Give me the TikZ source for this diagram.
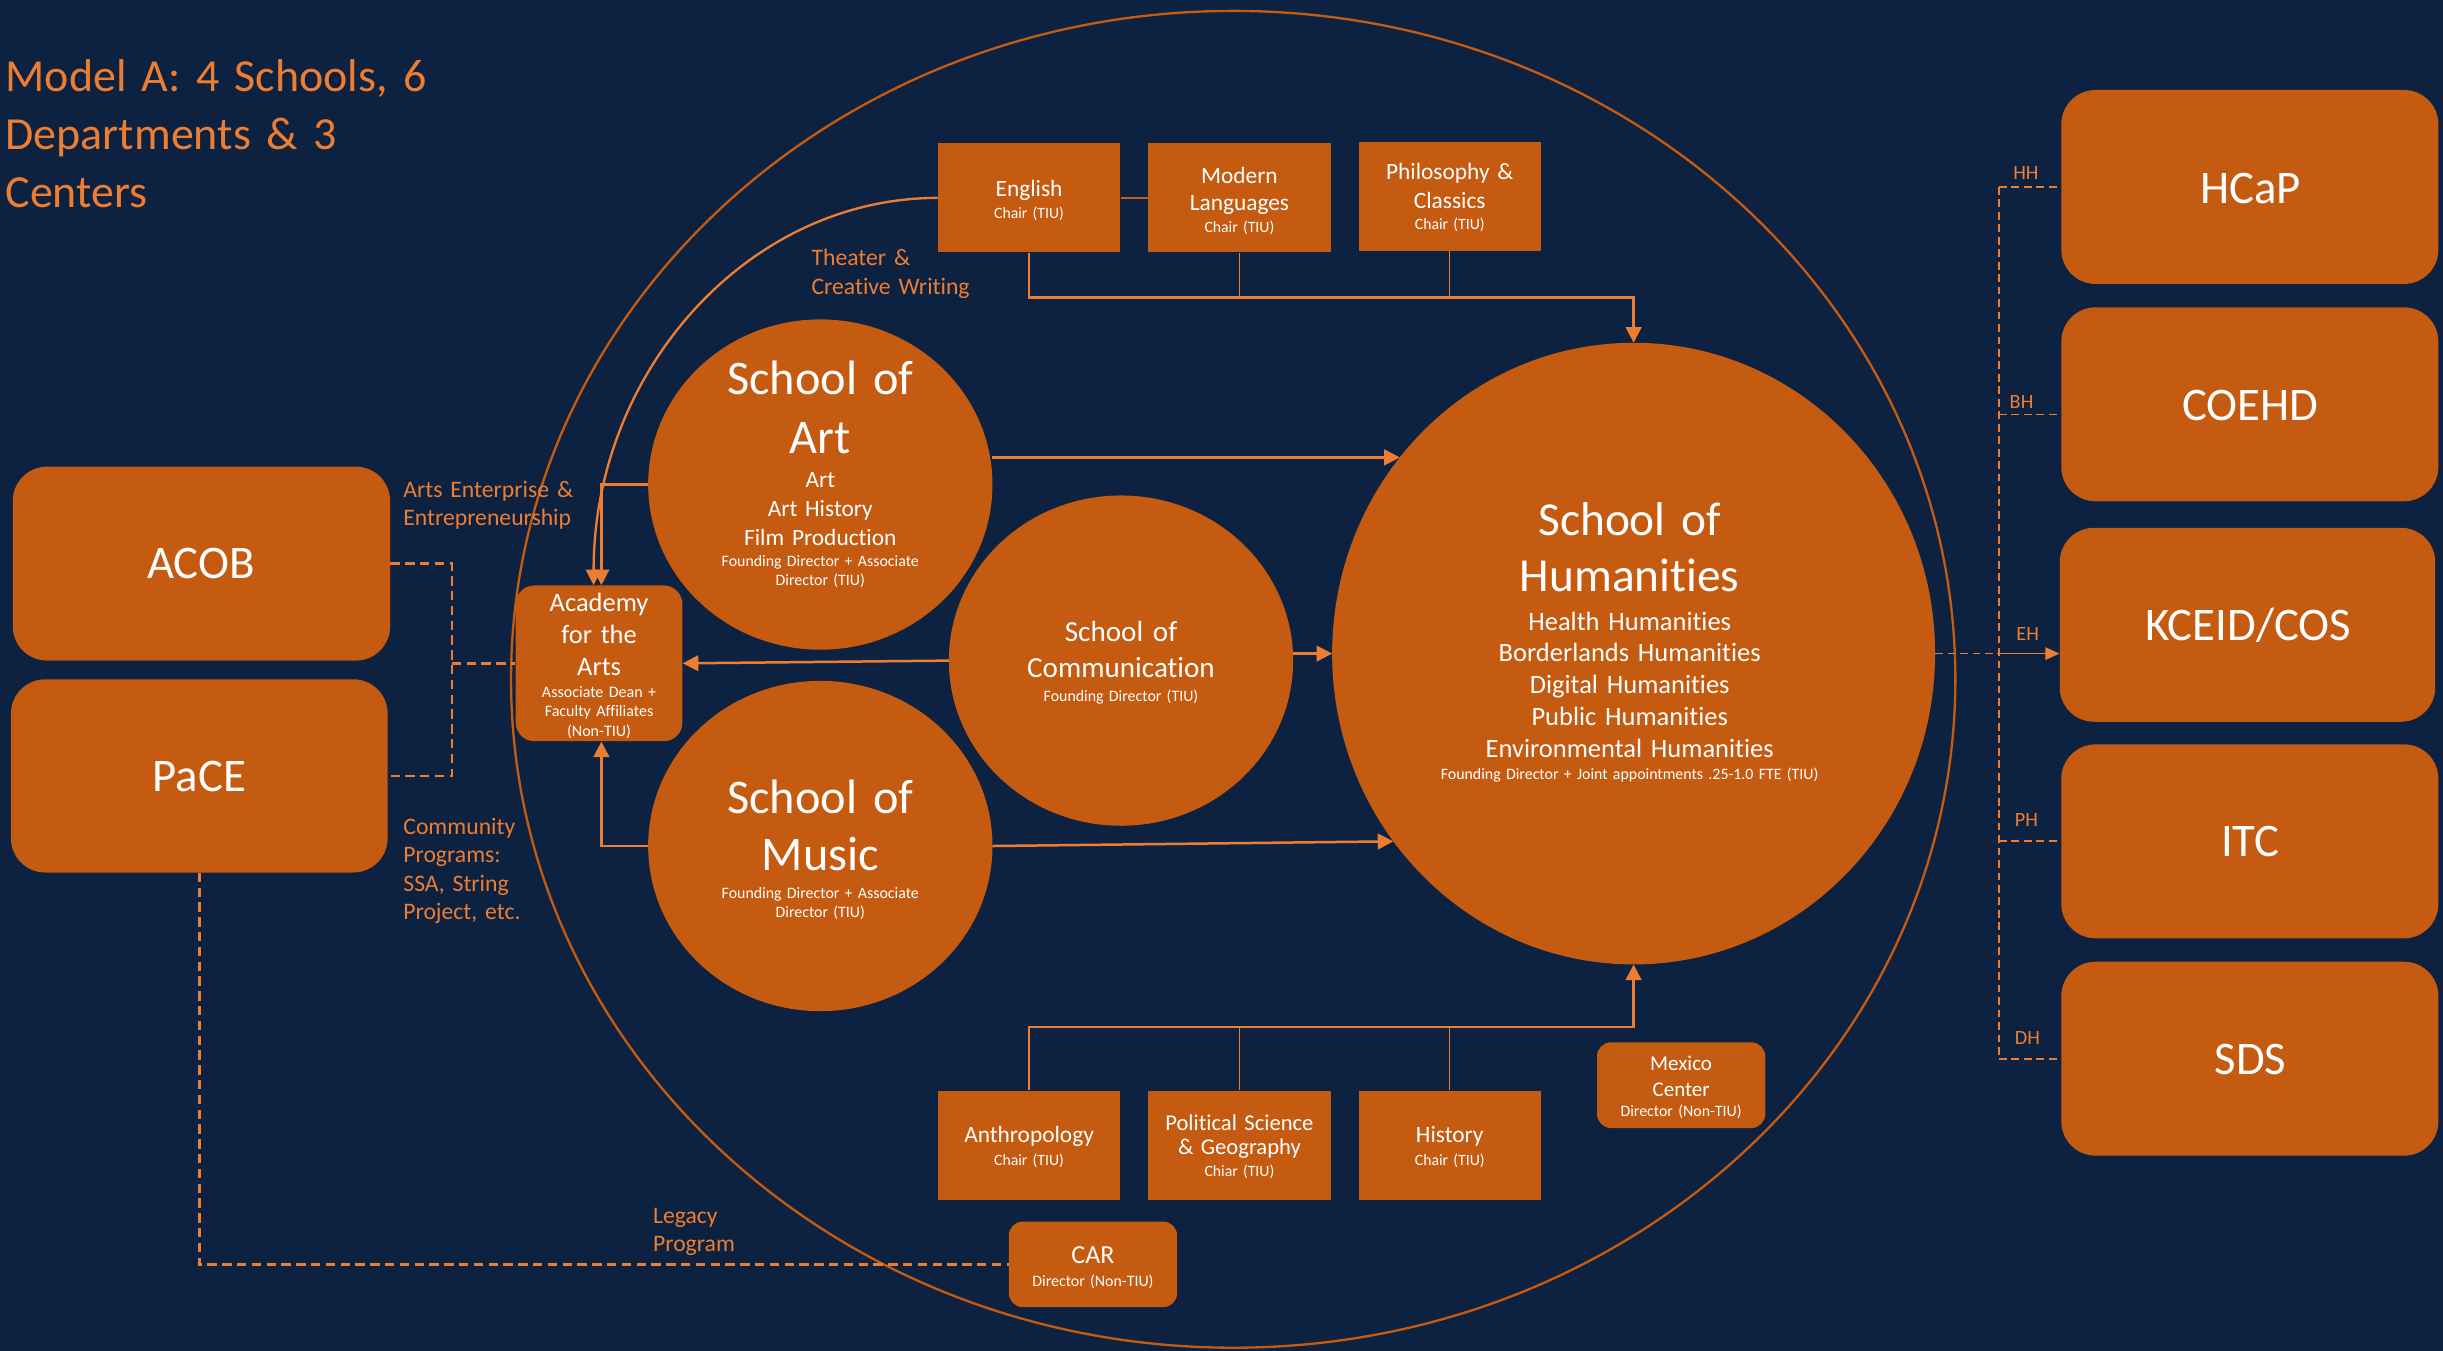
\documentclass[tikz,border=0pt]{standalone}
\usepackage{fontspec}
\setmainfont{Carlito}[Ligatures=NoCommon]
\usetikzlibrary{shapes.geometric,arrows.meta,calc}
\definecolor{bgc}{RGB}{13,34,64}
\definecolor{fillc}{RGB}{197,90,17}
\definecolor{linec}{RGB}{237,125,49}
\newcommand{\fs}[2]{\fontsize{#1}{#2}\selectfont}
\tikzset{
  school/.style={ellipse, fill=fillc, inner sep=0pt, outer sep=0pt},
  deptbox/.style={rectangle, fill=fillc, inner sep=0pt, minimum width=117pt, minimum height=70pt},
  unitbox/.style={rectangle, rounded corners=22pt, fill=fillc, inner sep=0pt, minimum width=242pt, minimum height=124.5pt},
  ctrbox/.style={rectangle, rounded corners=9pt, fill=fillc, inner sep=0pt, minimum width=108pt, minimum height=55pt},
  wtxt/.style={text=white, inner sep=0pt, anchor=base, align=center, text width=260pt},
  otxt/.style={text=linec, inner sep=0pt, anchor=base west, align=left, text width=220pt},
  conn/.style={draw=linec, line width=1.6pt},
  thinconn/.style={draw=linec, line width=0.9pt},
  arr/.style={conn, -{Triangle[length=10pt,width=10pt]}},
  rarr/.style={draw=linec, line width=1.1pt, -{Triangle[length=9pt,width=8pt]}},
  dsh/.style={draw=linec, line width=1.6pt, dash pattern=on 6pt off 3.5pt},
  rdsh/.style={draw=linec, line width=1.1pt, dash pattern=on 5pt off 3pt},
}
\begin{document}
\begin{tikzpicture}[x=1pt,y=-1pt]
\fill[bgc] (0,0) rectangle (1568,867);
\useasboundingbox (0,0) rectangle (1568,867);

% title
\node[otxt, font=\fs{29.5}{37}, text width=400pt] (title) at (3.4,59) {Model A: 4 Schools, 6\\Departments \& 3\\Centers};

% outer ellipse
\node[ellipse, draw=fillc, line width=1.5pt, minimum width=927pt, minimum height=858pt, inner sep=0pt] (outer) at (791.5,436) {};

% schools
\node[school, minimum width=221pt, minimum height=212pt] (art) at (526.5,311) {};
\node[school, minimum width=221pt, minimum height=212pt] (comm) at (719.5,424) {};
\node[school, minimum width=221pt, minimum height=212pt] (music) at (526.5,543) {};
\node[school, minimum width=387pt, minimum height=399pt] (hum) at (1048.5,419.5) {};

\node[wtxt, font=\fs{31}{37.5}] (artA) at (526.5,253.5) {School of\\Art};
\node[wtxt, font=\fs{15}{18.5}] (artB) at (526.5,313) {Art\\Art History\\Film Production};
\node[wtxt, font=\fs{10.2}{12.3}] (artC) at (526.5,363.7) {Founding Director + Associate\\Director (TIU)};

\node[wtxt, font=\fs{31}{36.5}] (musA) at (526.5,522) {School of\\Music};
\node[wtxt, font=\fs{10.2}{12.5}] (musC) at (526.5,576.5) {Founding Director + Associate\\Director (TIU)};

\node[wtxt, font=\fs{18.7}{23}] (commA) at (719.5,412) {School of\\Communication};
\node[wtxt, font=\fs{10.2}{12.3}] (commC) at (719.5,450.4) {Founding Director (TIU)};

\node[wtxt, font=\fs{30.4}{36.4}] (humA) at (1046,343.4) {School of\\Humanities};
\node[wtxt, font=\fs{17}{20.4}] (humB) at (1046,404.4) {Health Humanities\\Borderlands Humanities\\Digital Humanities\\Public Humanities\\Environmental Humanities};
\node[wtxt, font=\fs{10.2}{12.3}, text width=300pt] (humC) at (1046,500.6) {Founding Director + Joint appointments .25-1.0 FTE (TIU)};

% academy
\node[rectangle, rounded corners=12pt, fill=fillc, inner sep=0pt, minimum width=107pt, minimum height=100pt] (acad) at (384.5,425.75) {};
\node[wtxt, font=\fs{17}{20.4}] (acadA) at (384.5,392.6) {Academy\\for the\\Arts};
\node[wtxt, font=\fs{10.3}{12.7}] (acadC) at (384.5,447.4) {Associate Dean +\\Faculty Affiliates\\(Non-TIU)};

% departments top
\node[deptbox] (eng) at (660.5,127) {};
\node[wtxt, font=\fs{15}{18}] (engA) at (660.5,126.2) {English};
\node[wtxt, font=\fs{10.1}{12}] (engC) at (660.5,140) {Chair (TIU)};
\node[deptbox] (mod) at (795.5,127) {};
\node[wtxt, font=\fs{15}{17.5}] (modA) at (795.5,117.7) {Modern\\Languages};
\node[wtxt, font=\fs{10.1}{12}] (modC) at (795.5,149.3) {Chair (TIU)};
\node[deptbox] (phil) at (930.5,126) {};
\node[wtxt, font=\fs{15}{18.2}] (philA) at (930.5,115.5) {Philosophy \&\\Classics};
\node[wtxt, font=\fs{10.1}{12}] (philC) at (930.5,147.6) {Chair (TIU)};

% departments bottom
\node[deptbox] (anth) at (660.5,735) {};
\node[wtxt, font=\fs{15}{18}] (anthA) at (660.5,733.4) {Anthropology};
\node[wtxt, font=\fs{10.1}{12}] (anthC) at (660.5,747.8) {Chair (TIU)};
\node[deptbox] (pol) at (795.5,735) {};
\node[wtxt, font=\fs{14.5}{16}] (polA) at (795.5,725.3) {Political Science\\\& Geography};
\node[wtxt, font=\fs{10.1}{12}] (polC) at (795.5,754.8) {Chiar (TIU)};
\node[deptbox] (hist) at (930.5,735) {};
\node[wtxt, font=\fs{15}{18}] (histA) at (930.5,733.4) {History};
\node[wtxt, font=\fs{10.1}{12}] (histC) at (930.5,747.8) {Chair (TIU)};

% centers
\node[ctrbox] (mex) at (1079,696.5) {};
\node[wtxt, font=\fs{13.5}{16.3}] (mexA) at (1079,687.2) {Mexico\\Center};
\node[wtxt, font=\fs{10.2}{12}] (mexC) at (1079,716.7) {Director (Non-TIU)};
\node[ctrbox] (car) at (701.5,811.5) {};
\node[wtxt, font=\fs{16.7}{20}] (carA) at (701.5,810.9) {CAR};
\node[wtxt, font=\fs{10.2}{12}] (carC) at (701.5,825.4) {Director (Non-TIU)};

% left units
\node[unitbox, minimum width=242.2pt] (acob) at (129.3,361.75) {};
\node[wtxt, font=\fs{30}{36}] (acobA) at (129,371.2) {ACOB};
\node[unitbox, minimum width=241.8pt, minimum height=124pt] (pace) at (127.9,498) {};
\node[wtxt, font=\fs{30}{36}] (paceA) at (127.9,508) {PaCE};

% right units
\node[unitbox] (hcap) at (1444,120) {};
\node[wtxt, font=\fs{30}{36}] (hcapA) at (1444.4,130.8) {HCaP};
\node[unitbox] (coehd) at (1444,259.5) {};
\node[wtxt, font=\fs{30}{36}] (coehdA) at (1444.4,269.6) {COEHD};
\node[unitbox, minimum width=241pt] (kceid) at (1442.5,401) {};
\node[wtxt, font=\fs{30}{36}] (kceidA) at (1443,411.4) {KCEID/COS};
\node[unitbox] (itc) at (1444,540) {};
\node[wtxt, font=\fs{30}{36}] (itcA) at (1444.4,549.5) {ITC};
\node[unitbox] (sds) at (1444,679.5) {};
\node[wtxt, font=\fs{30}{36}] (sdsA) at (1444.4,689.6) {SDS};

% orange side labels
\node[otxt, font=\fs{15.2}{18.4}] (aee) at (258.7,319.2) {Arts Enterprise \&\\Entrepreneurship};
\node[otxt, font=\fs{15.2}{18.3}] (cprog) at (258.7,535.5) {Community\\Programs:\\SSA, String\\Project, etc.};
\node[otxt, font=\fs{15.2}{18.2}] (theat) at (520.7,170.5) {Theater \&\\Creative Writing};
\node[otxt, font=\fs{15.2}{18.2}] (legacy) at (419,785.2) {Legacy\\Program};

\node[otxt, font=\fs{13}{15}] (lHH) at (1292,115) {HH};
\node[otxt, font=\fs{13}{15}] (lBH) at (1289.7,262.3) {BH};
\node[otxt, font=\fs{13}{15}] (lEH) at (1294,410.8) {EH};
\node[otxt, font=\fs{13}{15}] (lPH) at (1293,530.7) {PH};
\node[otxt, font=\fs{13}{15}] (lDH) at (1293,670.7) {DH};

% top department bus
\coordinate (topbus) at (0,191);
\draw[thinconn, draw=fillc] (eng.east) -- (mod.west);
\draw[arr] (eng.south) -- (eng.south |- topbus) -| (hum.north);
\draw[thinconn] (mod.south) -- (mod.south |- topbus);
\draw[thinconn] (phil.south) -- (phil.south |- topbus);

% bottom department bus
\coordinate (botbus) at (0,659);
\draw[arr] (anth.north) -- (anth.north |- botbus) -| (hum.south);
\draw[thinconn] (pol.north) -- (pol.north |- botbus);
\draw[thinconn] (hist.north) -- (hist.north |- botbus);

% school arrows
\draw[arr] (art.east |- hum.140) -- (hum.140);
\draw[arr] (music.east) -- (hum.218);
\draw[arr] (comm.east |- hum.west) -- (hum.west);
\draw[arr] (comm.west) -- (acad.east);
\draw[arr] (art.west) -| ([xshift=1.5pt]acad.north);
\draw[arr] (music.west) -| ([xshift=1.5pt]acad.south);
\draw[linec, line width=1.5pt, -{Triangle[length=10pt,width=10pt]}] (eng.west) .. controls (480,127) and (381,238.3) .. ([xshift=-3.5pt]acad.north);

% left dashed links
\coordinate (lb) at (290,0);
\draw[dsh] (acob.east) -- (acob.east -| lb) -- (pace.east -| lb) -- (pace.east);
\draw[dsh] (acad.west -| lb) -- (acad.west);
\draw[dsh] (pace.south) -- (pace.south |- car.west) -- (car.west);

% right dashed bus
\coordinate (rb) at (1283,0);
\draw[rdsh] (hum.east) -- (hum.east -| rb);
\draw[rarr] (hum.east -| rb) -- (hum.east -| kceid.west);
\draw[rdsh] (rb |- hcap.west) -- (rb |- sds.west);
\draw[rdsh] (rb |- hcap.west) -- (hcap.west);
\draw[rdsh] (rb |- 0,266) -- (kceid.west |- 0,266);
\draw[rdsh] (rb |- itc.west) -- (itc.west);
\draw[rdsh] (rb |- sds.west) -- (sds.west);
\end{tikzpicture}
\end{document}
